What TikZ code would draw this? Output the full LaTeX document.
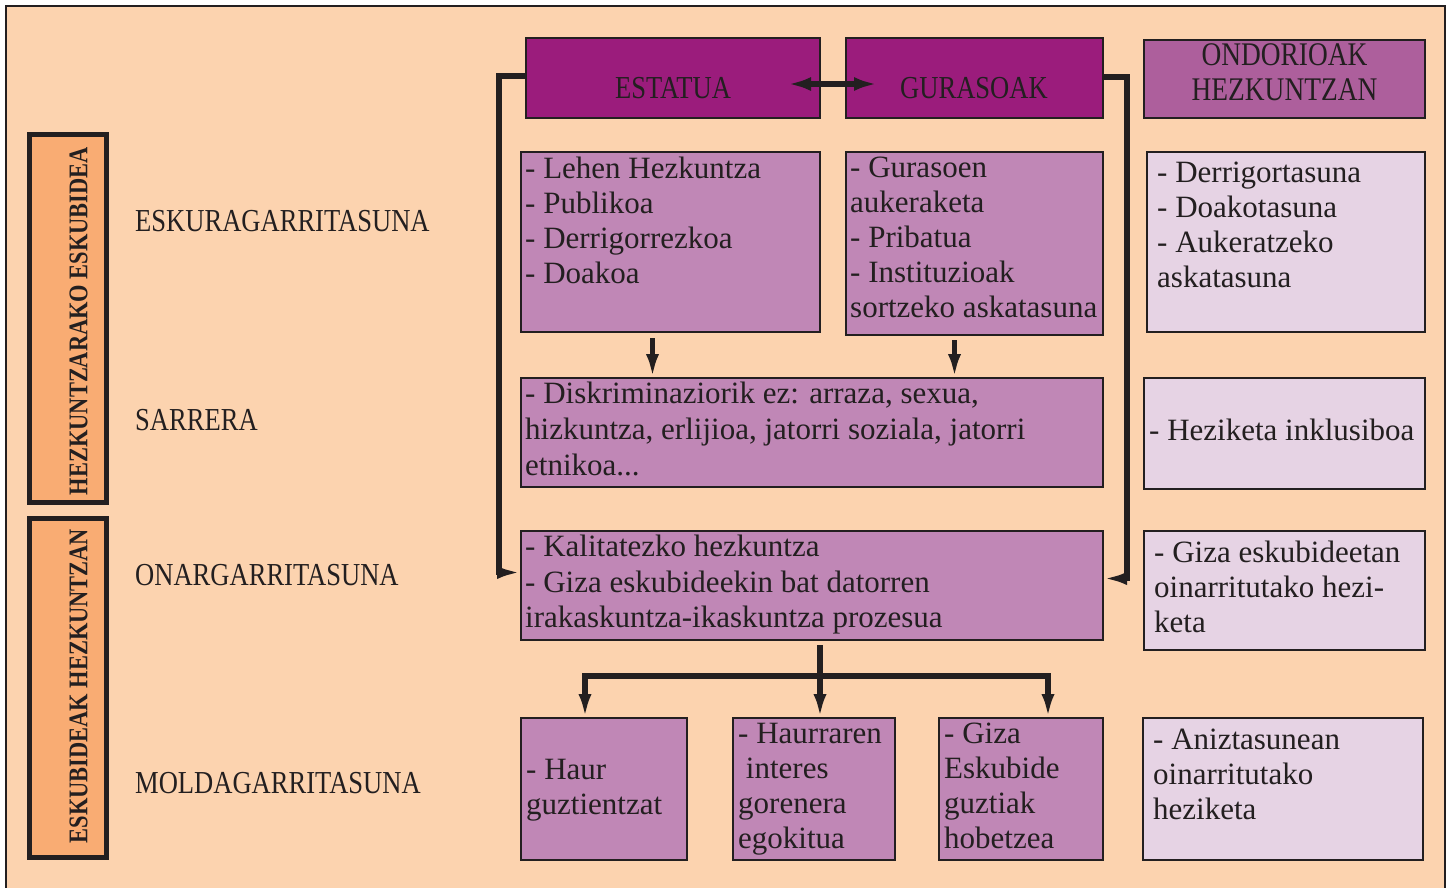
\documentclass[tikz,border=0pt]{standalone}
\usepackage{fontspec}
\setmainfont{Liberation Serif}
\newfontfamily\capsfont{Liberation Serif}[FakeStretch=0.83]
\usetikzlibrary{arrows.meta}
\definecolor{bg}{HTML}{FCD3AF}
\definecolor{ink}{HTML}{231F20}
\definecolor{orangebox}{HTML}{F9AC73}
\definecolor{headA}{HTML}{9B1C7C}
\definecolor{headB}{HTML}{AD5F9C}
\definecolor{midc}{HTML}{C087B6}
\definecolor{lightc}{HTML}{E6D3E4}
\begin{document}
\begin{tikzpicture}[x=1pt,y=-1pt,
  box/.style={draw=ink, line width=2.8pt, inner sep=0pt, outer sep=0pt, anchor=north west, rectangle},
  headbox/.style={box, fill=headA},
  ondbox/.style={box, fill=headB},
  midbox/.style={box, fill=midc},
  lightbox/.style={box, fill=lightc},
  sidebox/.style={box, fill=orangebox, line width=5pt},
  txt/.style={inner sep=0pt, anchor=north west, align=left, text=ink, font=\fontsize{31}{35}\selectfont},
  hdr/.style={inner sep=0pt, anchor=base, text=ink, font=\capsfont\fontsize{32}{35}\selectfont},
  lbl/.style={inner sep=0pt, anchor=base west, text=ink, font=\capsfont\fontsize{32}{35}\selectfont},
  side/.style={inner sep=0pt, rotate=90, text=ink, font=\capsfont\bfseries\fontsize{27}{30}\selectfont},
  conn/.style={draw=ink, line width=5.5pt},
  arr/.style={conn, -{Latex[length=24pt,width=13pt]}},
  dbl/.style={conn, {Latex[length=23pt,width=14pt]}-{Latex[length=23pt,width=14pt]}},
]
\path[use as bounding box] (0,0) rectangle (1456,887);
\fill[white] (0,0) rectangle (1456,887);
\fill[bg] (6,6) rectangle (1445,900);
\draw[ink, line width=2.6pt] (6,900) -- (6,6) -- (1445,6) -- (1445,900);

% side boxes
\node[sidebox, minimum width=76.5pt, minimum height=368pt] (S1) at (29.5,134.5) {};
\node[sidebox, minimum width=76.5pt, minimum height=339pt] (S2) at (29.5,518.5) {};
\node[side] (S1t) at (78.5,321) {HEZKUNTZARAKO ESKUBIDEA};
\node[side] (S2t) at (78.5,686) {ESKUBIDEAK HEZKUNTZAN};

% row labels
\node[lbl] (L1) at (135,231) {ESKURAGARRITASUNA};
\node[lbl] (L2) at (135,430) {SARRERA};
\node[lbl] (L3) at (135,585) {ONARGARRITASUNA};
\node[lbl] (L4) at (135,793) {MOLDAGARRITASUNA};

% headers
\node[headbox, minimum width=294pt, minimum height=80pt] (E) at (526,38) {};
\node[headbox, minimum width=257pt, minimum height=80pt] (G) at (846,38) {};
\node[ondbox, minimum width=281pt, minimum height=78pt] (O) at (1144,40) {};
\node[hdr] (Et) at (673,98) {ESTATUA};
\node[hdr] (Gt) at (974,98) {GURASOAK};
\node[inner sep=0pt, anchor=north, align=center, text=ink, font=\capsfont\fontsize{33}{35}\selectfont] (Ot) at (1284.5,43.5) {ONDORIOAK\\HEZKUNTZAN};

% middle boxes
\node[midbox, minimum width=299pt, minimum height=180pt] (A) at (521,152) {};
\node[midbox, minimum width=257pt, minimum height=183pt] (B) at (846,152) {};
\node[midbox, minimum width=582pt, minimum height=109pt] (C) at (521,378) {};
\node[midbox, minimum width=582pt, minimum height=109pt] (D) at (521,531) {};
\node[midbox, minimum width=166pt, minimum height=142pt] (E1) at (521,718) {};
\node[midbox, minimum width=162pt, minimum height=142pt] (E2) at (733,718) {};
\node[midbox, minimum width=164pt, minimum height=142pt] (E3) at (939,718) {};

% right boxes
\node[lightbox, minimum width=278pt, minimum height=180pt] (R1) at (1147,152) {};
\node[lightbox, minimum width=281pt, minimum height=111pt] (R2) at (1144,378) {};
\node[lightbox, minimum width=281pt, minimum height=119pt] (R3) at (1144,531) {};
\node[lightbox, minimum width=280pt, minimum height=142pt] (R4) at (1143,718) {};

% texts
\node[txt] (At) at (525,157) {- Lehen Hezkuntza\\- Publikoa\\- Derrigorrezkoa\\- Doakoa};
\node[txt] (Bt) at (850,157) {- Gurasoen\\aukeraketa\\- Pribatua\\- Instituzioak\\sortzeko askatasuna};
\node[txt, font=\fontsize{31}{36}\selectfont] (Ct) at (525,382) {- Diskriminaziorik ez: arraza, sexua,\\hizkuntza, erlijioa, jatorri soziala, jatorri\\etnikoa...};
\node[txt, font=\fontsize{31}{35.5}\selectfont] (Dt) at (525,535) {- Kalitatezko hezkuntza\\- Giza eskubideekin bat datorren\\irakaskuntza-ikaskuntza prozesua};
\node[txt] (E1t) at (526,759) {- Haur\\guztientzat};
\node[txt] (E2t) at (738,723) {- Haurraren\\\ interes\\gorenera\\egokitua};
\node[txt] (E3t) at (944,723) {- Giza\\Eskubide\\guztiak\\hobetzea};
\node[txt] (R1t) at (1157,162) {- Derrigortasuna\\- Doakotasuna\\- Aukeratzeko\\askatasuna};
\node[txt] (R2t) at (1149,419) {- Heziketa inklusiboa};
\node[txt] (R3t) at (1154,541) {- Giza eskubideetan\\oinarritutako hezi-\\keta};
\node[txt] (R4t) at (1153,729) {- Aniztasunean\\oinarritutako\\heziketa};

% connectors
\draw[dbl] ([xshift=-32pt,yshift=-6pt]E.east) -- ([xshift=31pt,yshift=-6pt]G.west);
\draw[arr, line join=miter] ([yshift=2pt]E.west) -- ++(-27,0) |- ([yshift=13pt]D.west);
\draw[arr, line join=miter] ([yshift=1pt]G.east) -- ++(24,0) |- ([yshift=7pt]D.east);
\draw[arr] ([xshift=-18pt,yshift=-6pt]A.south) -- ([xshift=-18pt]A.south |- C.north);
\draw[arr] ([xshift=-20pt,yshift=-5pt]B.south) -- ([xshift=-20pt]B.south |- C.north);
\coordinate (J) at (820,676);
\coordinate (JL) at (585,676);
\coordinate (JR) at (1048,676);
\draw[arr] (J |- D.south) ++(0,5) -- (J |- E2.north);
\draw[arr, line join=miter] (J) -| (JL |- E1.north);
\draw[arr, line join=miter] (J) -| (JR |- E3.north);
\end{tikzpicture}
\end{document}
